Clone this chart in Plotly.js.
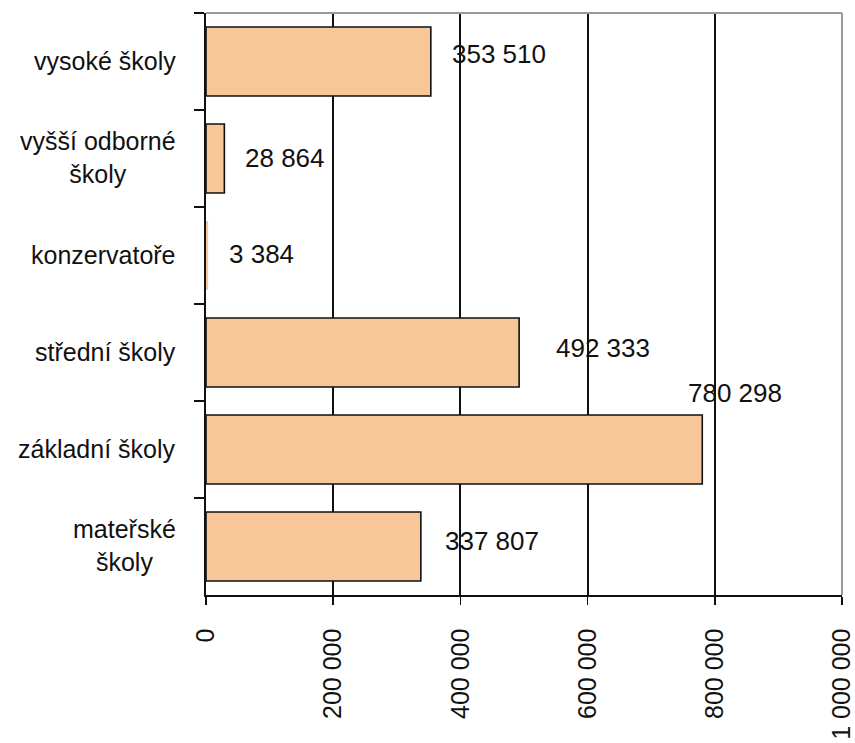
<!DOCTYPE html>
<html>
<head>
<meta charset="utf-8">
<script src="https://cdn.plot.ly/plotly-3.0.1.min.js"></script>
<style>html,body{margin:0;padding:0;background:#fff;}#chart{width:855px;height:743px;}</style>
</head>
<body>
<div id="chart"></div>
<script>
// Data (top to bottom as displayed)
const categories = ["vysoké školy", "vyšší odborné<br>školy", "konzervatoře", "střední školy", "základní školy", "mateřské<br>školy"];
const values = [353510, 28864, 3384, 492333, 780298, 337807];
const tickValues = [0, 200000, 400000, 600000, 800000, 1000000];

// label placement offsets in pixels (Excel-like manual placement)
const labelDX = [19, 19, 19, 35, -16, 22];
const labelDY = [8, 1, 2, 5, 57, 6];

function fmt(v) { return String(v).replace(/\B(?=(\d{3})+(?!\d))/g, ' '); }

const FONT = "Liberation Sans, Arial, sans-serif";
const TXT = "#111";

const trace = {
  type: 'bar',
  orientation: 'h',
  y: categories,
  x: values,
  width: 0.71,
  marker: {
    color: '#F7C799',
    // outline is not visible on bars that are only a pixel or two wide
    line: { color: '#111', width: values.map(v => v < 5000 ? 0 : 1.6) }
  },
  hoverinfo: 'none'
};

const annotations = [];
categories.forEach((c, i) => {
  annotations.push({
    xref: 'x', yref: 'y', x: values[i], y: c,
    text: fmt(values[i]), showarrow: false,
    xanchor: 'left', yanchor: 'middle',
    xshift: labelDX[i], yshift: labelDY[i],
    font: { family: FONT, size: 26, color: TXT }
  });
  annotations.push({
    xref: 'paper', yref: 'y', x: 0, y: c,
    text: c, showarrow: false, align: 'center',
    xanchor: 'right', yanchor: 'middle', xshift: -28, yshift: 1,
    font: { family: FONT, size: 25, color: TXT }
  });
});

const layout = {
  width: 855, height: 743,
  margin: { l: 206, r: 13, t: 13, b: 148 },
  paper_bgcolor: '#fff', plot_bgcolor: '#fff',
  showlegend: false,
  separators: ', ',
  font: { family: FONT, color: TXT },
  xaxis: {
    range: [0, 1000000],
    tickvals: tickValues,
    ticktext: tickValues.map(fmt),
    tickangle: -90,
    ticks: 'outside', ticklen: 8, tickwidth: 1.6, tickcolor: '#111',
    ticklabelstandoff: 14,
    ticklabeloverflow: 'allow',
    showline: true, linecolor: '#111', linewidth: 1.6,
    showgrid: true, gridcolor: '#111', gridwidth: 2,
    zeroline: false,
    tickfont: { family: FONT, size: 25, color: TXT },
    fixedrange: true
  },
  yaxis: {
    type: 'category',
    autorange: 'reversed',
    showticklabels: false,
    ticks: 'outside', ticklen: 10, tickwidth: 1.6, tickcolor: '#111',
    tickson: 'boundaries',
    showline: true, linecolor: '#111', linewidth: 1.6,
    showgrid: false, zeroline: false,
    fixedrange: true
  },
  shapes: [
    { type: 'line', xref: 'x domain', yref: 'y domain', x0: 0, x1: 1, y0: 1, y1: 1, line: { color: '#9a9a9a', width: 2 }, layer: 'above' },
    { type: 'line', xref: 'x domain', yref: 'y domain', x0: 1, x1: 1, y0: 0, y1: 1, line: { color: '#9a9a9a', width: 2 }, layer: 'above' }
  ],
  annotations: annotations
};

Plotly.newPlot('chart', [trace], layout, { displayModeBar: false, staticPlot: true });
</script>
</body>
</html>
